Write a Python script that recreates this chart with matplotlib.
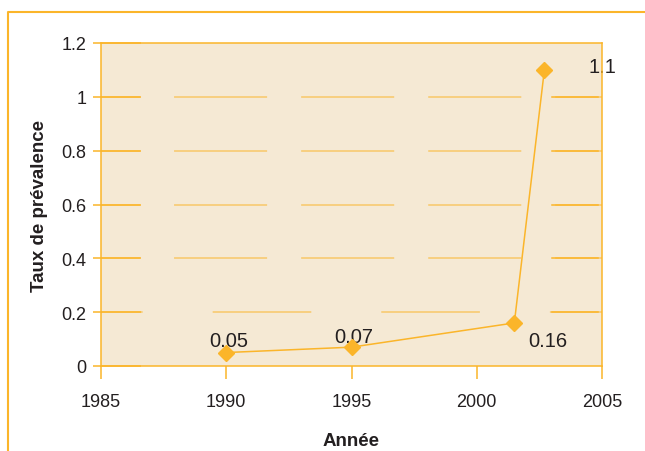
import matplotlib
matplotlib.use("Agg")
import matplotlib.pyplot as plt
from matplotlib.lines import Line2D

plt.rcParams['font.family'] = ['Liberation Sans', 'DejaVu Sans']
plt.rcParams['lines.scale_dashes'] = False

# prevalence data
years = [1990, 1995, 2001.5, 2002.7]
taux = [0.05, 0.07, 0.16, 1.1]
point_labels = ['0.05', '0.07', '0.16', '1.1']

xticks = [1985, 1990, 1995, 2000, 2005]
yticks = [0, 0.2, 0.4, 0.6, 0.8, 1, 1.2]
ytick_labels = ['0', '0.2', '0.4', '0.6', '0.8', '1', '1.2']

orange = '#FBB52A'
grid_col = '#F8C868'
fond = '#F5E9D4'
ink = '#231F20'

fig = plt.figure(figsize=(6.45, 4.52), dpi=100)
ax = fig.add_axes([101/645, 1 - 367/452, 501/645, 323/452])
ax.set_facecolor(fond)

ax.plot(years, taux, color=orange, lw=1.1, marker='D', ms=7.7,
        mec=orange, mfc=orange, zorder=4)

# label offsets (points) and alignment for each data label
offsets = [(1.8, 4.7, 'center'), (1.8, 3.6, 'center'),
           (10, -16.5, 'left'), (32, -1.5, 'left')]
for x, y, lab, (dx, dy, ha) in zip(years, taux, point_labels, offsets):
    ax.annotate(lab, (x, y), xytext=(dx, dy), textcoords='offset points',
                ha=ha, va='baseline', fontsize=14.5, color=ink, zorder=3)

ax.set_xlim(1985, 2005)
ax.set_ylim(0, 1.2)
ax.set_xticks(xticks)
ax.set_xticklabels([str(v) for v in xticks])
ax.set_yticks(yticks)
ax.set_yticklabels(ytick_labels)

# short dark segment at the left end of each gridline, drawn as minor ticks
ax.set_yticks(yticks, minor=True)
ax.yaxis.remove_overlapping_locs = False
ax.tick_params(axis='y', which='major', direction='out', length=5.8, width=1.1,
               color=orange, labelsize=13, labelcolor=ink, pad=4.5)
ax.tick_params(axis='y', which='minor', direction='in', length=28.5, width=1.1,
               color=orange, left=True, right=False)
ax.tick_params(axis='x', which='major', direction='out', length=9.4, width=1.1,
               color=orange, labelsize=13, labelcolor=ink, pad=10)

# broken gridlines, with a darker piece near the right edge
for yv in yticks[1:-1]:
    if yv == 0.2:
        style = (41, (71, 50.4))
    else:
        style = (38.9, (67, 24.5))
    ax.axhline(yv, color=grid_col, lw=1.1, linestyle=style, zorder=1)
    ax.axhline(yv, xmin=0.9, xmax=0.992, color=orange, lw=1.1, zorder=1.5)

for side in ['left', 'right', 'top', 'bottom']:
    ax.spines[side].set_color(orange)
    ax.spines[side].set_linewidth(1.1)
    ax.spines[side].set_zorder(5)

ax.set_xlabel('Année', fontsize=13.5, fontweight='bold', color=ink)
ax.set_ylabel('Taux de prévalence', fontsize=13.5, fontweight='bold', color=ink)
ax.xaxis.set_label_coords(0.5, -0.205)
ax.yaxis.set_label_coords(-0.105, 0.5)

# outer frame (top and left edges)
fig.add_artist(Line2D([7.5/645, 7.5/645, 1.0], [0.0, 1 - 12.5/452, 1 - 12.5/452],
                      transform=fig.transFigure, color=orange, lw=1.5))

fig.savefig('out.png', dpi=100)
